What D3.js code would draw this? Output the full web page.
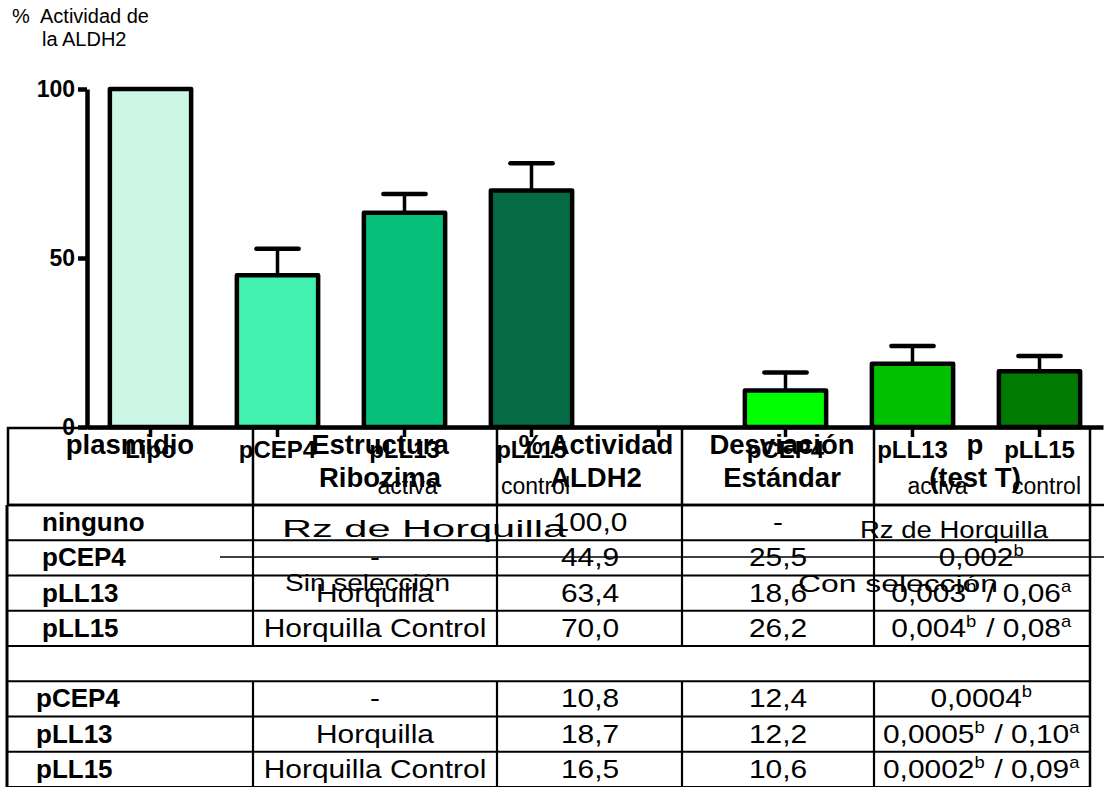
<!DOCTYPE html>
<html><head><meta charset="utf-8">
<script src="https://cdn.jsdelivr.net/npm/d3@7"></script>
<style>
html,body{margin:0;padding:0;background:#fff;}
svg{display:block;font-family:Arial,"Liberation Sans",sans-serif;}
</style></head>
<body><svg id="chart" width="1104" height="787"></svg>
<script>
// ---- data ----
const categories = ["Lipo", "pCEP4", "pLL13", "pLL15", "", "pCEP4", "pLL13", "pLL15"];
const subLabels  = ["", "", "activa", "control", "", "", "activa", "control"];
const subShift   = [0, 0, 3, 4, 0, 0, 25, 7];
const sinSeleccion = [0, 1, 2, 3];          // category indices without selection
const sinValues    = [100.0, 44.9, 63.4, 70.0];
const sinErrors    = [0, 7.8, 5.5, 8.0];
const conSeleccion = [5, 6, 7];             // category indices with selection
const conValues    = [10.8, 18.7, 16.5];
const conErrors    = [5.3, 5.3, 4.5];
const sinColors = ["#ccf7e6", "#42f0b0", "#06c07a", "#066b45"];
const conColors = ["#00ff00", "#00c000", "#007a00"];
const yTicks = [0, 50, 100];

const headers    = [["plasmidio"], ["Estructura", "Ribozima"], ["% Actividad", "ALDH2"], ["Desviación", "Estándar"], ["p", "(test T)"]];
const plasmidos  = ["ninguno", "pCEP4", "pLL13", "pLL15", "", "pCEP4", "pLL13", "pLL15"];
const estructura = ["", "-", "Horquilla", "Horquilla Control", "", "-", "Horquilla", "Horquilla Control"];
const desviacion = ["-", "25,5", "18,6", "26,2", "", "12,4", "12,2", "10,6"];
const pValores   = ["", "0,002^b", "0,003^b / 0,06^a", "0,004^b / 0,08^a", "", "0,0004^b", "0,0005^b / 0,10^a", "0,0002^b / 0,09^a"];

// ---- setup ----
const svg = d3.select("#chart");
const W = 1104, H = 787;
const FONT = "Arial, 'Liberation Sans', sans-serif";
const fmt = v => d3.format(".1f")(v).replace(".", ",");
const actividad = [...sinValues.map(fmt), "", ...conValues.map(fmt)];

const y = d3.scaleLinear().domain([0, 100]).range([427, 89]);
const x = d3.scaleBand().domain(d3.range(categories.length)).range([87, 1103]);
const xBar = d3.scaleBand().domain(d3.range(categories.length)).range([87, 1103])
  .paddingInner(0.36).paddingOuter(0.18);

// ---- title ----
const title = svg.append("g").attr("font-size", 20).attr("fill", "#000");
title.append("text").attr("x", 12).attr("y", 23).text("%");
title.append("text").attr("x", 40).attr("y", 23).text("Actividad de");
title.append("text").attr("x", 42).attr("y", 46).text("la ALDH2");

// ---- table (beneath the chart marks) ----
const table = svg.append("g").attr("stroke", "#000").attr("fill", "none");
const headTop = 428, headBottom = 505;
const cols = [8, 253, 497, 682, 874, 1090];
const rowH = (H - headBottom) / plasmidos.length;
const rowTop = i => headBottom + i * rowH;

table.append("rect").attr("x", cols[0]).attr("y", headTop)
  .attr("width", cols[5] - cols[0]).attr("height", headBottom - headTop).attr("stroke-width", 2.5);
cols.slice(1, 5).forEach(c => table.append("line").attr("x1", c).attr("x2", c)
  .attr("y1", headTop).attr("y2", headBottom).attr("stroke-width", 2.5));
table.append("line").attr("x1", 8).attr("x2", W).attr("y1", headBottom).attr("y2", headBottom).attr("stroke-width", 2.5);

// body borders and grid
table.append("line").attr("x1", 7).attr("x2", 7).attr("y1", headBottom).attr("y2", H).attr("stroke-width", 3);
table.append("line").attr("x1", cols[5]).attr("x2", cols[5]).attr("y1", headBottom).attr("y2", H).attr("stroke-width", 2.5);
d3.range(1, plasmidos.length + 1).forEach(i => table.append("line")
  .attr("x1", 7).attr("x2", cols[5]).attr("y1", rowTop(i)).attr("y2", rowTop(i)).attr("stroke-width", 2.2));
plasmidos.forEach((p, i) => {
  if (p === "") return;     // spacer row is one merged cell
  cols.slice(1, 5).forEach(c => table.append("line").attr("x1", c).attr("x2", c)
    .attr("y1", rowTop(i)).attr("y2", rowTop(i + 1)).attr("stroke-width", 2.2));
});
// group bracket line
table.append("line").attr("x1", 220).attr("x2", W).attr("y1", 557).attr("y2", 557).attr("stroke-width", 1.6);

// header text
const headCenters = [130, 380, 596, 782, 975];
const headG = svg.append("g").attr("font-size", 27.5).attr("font-weight", "bold").attr("text-anchor", "middle");
headers.forEach((lines, j) => {
  lines.forEach((t, k) => headG.append("text").attr("x", headCenters[j]).attr("y", 454 + k * 33).text(t));
});

// body text (cell text is set slightly wide)
const bodyG = svg.append("g").attr("font-size", 26);
const colCenters = [375, 590, 778, 982];
const cellText = (cx, by) => bodyG.append("text").attr("text-anchor", "middle")
  .attr("transform", `translate(${cx},${by}) scale(1.15,1)`);
plasmidos.forEach((p, i) => {
  const by = rowTop(i) + 26;
  bodyG.append("text").attr("x", i < 4 ? 42 : 36).attr("y", by)
    .attr("font-weight", "bold").attr("font-size", 26).text(p);
  [estructura[i], actividad[i], desviacion[i]].forEach((t, j) => cellText(colCenters[j], by).text(t));
  const pt = cellText(colCenters[3], by);
  pValores[i].split(/(\^[a-z])/).filter(s => s).forEach(s => {
    if (s[0] === "^") {
      pt.append("tspan").attr("font-size", 16).attr("dy", -10).text(s.slice(1));
      pt.append("tspan").attr("font-size", 16).attr("dy", 10).text("\u200A");
    } else {
      pt.append("tspan").text(s);
    }
  });
});

// group labels laid over the table
const groupG = svg.append("g").attr("font-size", 24.5);
[["Rz de Horquilla", 282, 537, 284], ["Sin selección", 285, 591, 165],
 ["Rz de Horquilla", 860, 538, 188], ["Con selección", 798, 592, 200]].forEach(([t, gx, gy, len]) =>
  groupG.append("text").attr("x", gx).attr("y", gy).attr("textLength", len)
    .attr("lengthAdjust", "spacingAndGlyphs").text(t));

// ---- bars ----
const barG = svg.append("g").attr("stroke", "#000").attr("stroke-width", 4.5).attr("stroke-linejoin", "round");
function drawBars(idx, vals, colors) {
  barG.append("g").selectAll("rect").data(vals).join("rect")
    .attr("x", (d, i) => xBar(idx[i])).attr("width", xBar.bandwidth())
    .attr("y", d => y(d)).attr("height", d => y(0) - y(d))
    .attr("fill", (d, i) => colors[i]);
}
drawBars(sinSeleccion, sinValues, sinColors);
drawBars(conSeleccion, conValues, conColors);

// error bars (upper only)
function errorBars(idx, vals, errs) {
  const g = svg.append("g").attr("stroke", "#000").attr("stroke-linecap", "round");
  vals.forEach((v, i) => {
    if (!errs[i]) return;
    const cx = xBar(idx[i]) + xBar.bandwidth() / 2;
    const half = xBar.bandwidth() * 0.26;
    g.append("line").attr("x1", cx).attr("x2", cx).attr("y1", y(v) - 2).attr("y2", y(v + errs[i])).attr("stroke-width", 3.5);
    g.append("line").attr("x1", cx - half).attr("x2", cx + half)
      .attr("y1", y(v + errs[i])).attr("y2", y(v + errs[i])).attr("stroke-width", 4.5);
  });
}
errorBars(sinSeleccion, sinValues, sinErrors);
errorBars(conSeleccion, conValues, conErrors);

// ---- axes ----
const yAxis = svg.append("g").attr("transform", "translate(87,0)")
  .call(d3.axisLeft(y).tickValues(yTicks).tickSize(9).tickSizeOuter(0).tickPadding(3));
yAxis.select(".domain").attr("stroke-width", 4.5);
yAxis.selectAll(".tick line").attr("stroke-width", 4.5);
yAxis.selectAll(".tick text").attr("font-size", 23).attr("font-weight", "bold")
  .attr("font-family", FONT).attr("fill", "#000");

const xAxis = svg.append("g").attr("transform", `translate(0,${y(0)})`)
  .call(d3.axisBottom(x).tickSize(10).tickSizeOuter(0).tickFormat(i => categories[i]));
xAxis.select(".domain").attr("stroke-width", 4.5);
xAxis.selectAll(".tick line").attr("stroke-width", 3.5);
xAxis.selectAll(".tick text").attr("font-size", 24).attr("font-weight", "bold")
  .attr("font-family", FONT).attr("fill", "#000").attr("y", 31).attr("dy", 0);
xAxis.selectAll(".tick").append("text").attr("x", i => subShift[i]).attr("y", 67)
  .attr("font-size", 23).attr("fill", "#000").attr("text-anchor", "middle")
  .attr("font-family", FONT).text(i => subLabels[i]);
</script>
</body></html>
